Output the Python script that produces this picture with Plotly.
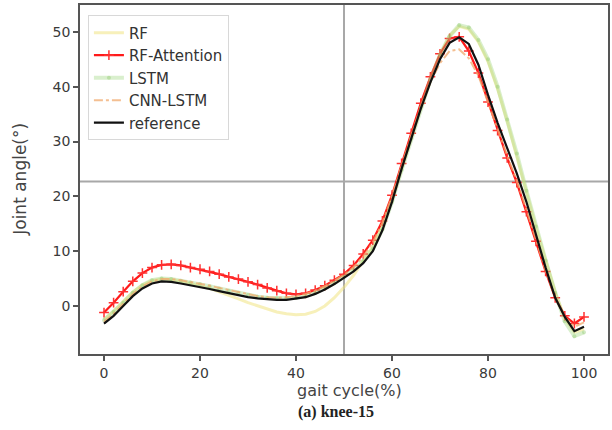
import plotly.graph_objects as go

gait = list(range(0, 101, 2))

reference = [-3.2, -1.8, 0.0, 1.8, 3.2, 4.1, 4.5, 4.4, 4.1, 3.8,
             3.5, 3.1, 2.7, 2.3, 1.9, 1.6, 1.4, 1.2, 1.1, 1.1,
             1.3, 1.6, 2.2, 3.0, 4.0, 5.1, 6.3, 7.8, 10.0, 13.8,
             19.0, 25.0, 30.5, 36.0, 40.8, 45.0, 48.0, 49.0, 47.8, 44.0,
             38.5, 33.4, 28.8, 24.2, 19.0, 13.0, 7.0, 1.5, -2.0, -4.6,
             -3.8]

rf_attention = [-1.2, 0.6, 2.6, 4.5, 6.0, 7.0, 7.5, 7.6, 7.4, 7.0,
                6.7, 6.3, 5.8, 5.3, 4.9, 4.4, 3.9, 3.3, 2.8, 2.3,
                2.1, 2.3, 2.9, 3.7, 4.7, 5.8, 7.4, 9.5, 12.0, 15.5,
                20.2, 26.0, 31.5, 37.0, 41.8, 46.0, 48.8, 49.1, 46.5, 42.5,
                37.2, 32.0, 27.0, 22.5, 17.2, 11.8, 6.3, 1.5, -1.8, -3.2,
                -2.0]

lstm = [-2.6, -1.1, 0.6, 2.4, 3.8, 4.7, 5.0, 4.9, 4.6, 4.3,
        4.0, 3.6, 3.2, 2.8, 2.4, 2.0, 1.7, 1.5, 1.4, 1.4,
        1.5, 1.8, 2.4, 3.2, 4.2, 5.3, 6.6, 8.2, 10.4, 14.0,
        19.0, 24.8, 30.5, 36.2, 41.3, 45.8, 49.2, 51.2, 50.8, 48.5,
        45.0, 40.0, 34.0, 27.8, 21.0, 14.5, 8.3, 2.4, -2.8, -5.5,
        -4.8]

rf = [-2.5, -1.0, 0.8, 2.5, 3.8, 4.6, 4.9, 4.8, 4.5, 4.1,
      3.7, 3.2, 2.6, 2.0, 1.3, 0.6, 0.0, -0.6, -1.1, -1.4,
      -1.6, -1.5, -1.0, 0.0, 1.5, 3.4, 5.6, 8.2, 10.8, 14.5,
      19.5, 25.0, 30.6, 36.2, 41.3, 45.8, 49.3, 51.0, 50.5, 48.2,
      44.6, 39.6, 33.7, 27.5, 20.8, 14.3, 8.2, 2.5, -2.3, -4.8,
      -4.2]

cnn_lstm = [-2.9, -1.4, 0.4, 2.2, 3.6, 4.5, 4.9, 4.9, 4.7, 4.4,
            4.1, 3.7, 3.3, 2.9, 2.5, 2.1, 1.8, 1.6, 1.5, 1.6,
            1.8, 2.2, 2.8, 3.6, 4.6, 5.7, 7.1, 9.0, 11.6, 15.2,
            20.0, 25.6, 31.0, 36.3, 40.8, 44.3, 46.5, 46.8, 45.2, 42.0,
            37.3, 32.3, 27.4, 22.8, 17.6, 12.0, 6.5, 1.5, -2.0, -3.8,
            -3.0]

cross_x = 50
cross_y = 22.7

x_ticks = [0, 20, 40, 60, 80, 100]
y_ticks = [0, 10, 20, 30, 40, 50]

fig = go.Figure()
fig.add_trace(go.Scatter(x=gait, y=rf, name="RF", mode="lines",
                         line=dict(color="rgba(240,228,130,0.55)", width=3)))
fig.add_trace(go.Scatter(x=gait, y=rf_attention, name="RF-Attention", mode="lines+markers",
                         line=dict(color="#ff1a1a", width=2.2),
                         marker=dict(symbol="cross-thin", size=7,
                                     line=dict(color="#ff3030", width=1.5))))
fig.add_trace(go.Scatter(x=gait, y=lstm, name="LSTM", mode="lines+markers",
                         line=dict(color="rgba(160,215,130,0.4)", width=4),
                         marker=dict(symbol="circle", size=4, color="rgba(150,205,120,0.45)")))
fig.add_trace(go.Scatter(x=gait, y=cnn_lstm, name="CNN-LSTM", mode="lines",
                         line=dict(color="rgba(240,170,110,0.75)", width=2, dash="dashdot")))
fig.add_trace(go.Scatter(x=gait, y=reference, name="reference", mode="lines",
                         line=dict(color="#111111", width=2.2)))

fig.add_shape(type="line", xref="x", yref="paper", x0=cross_x, x1=cross_x, y0=0, y1=1,
              line=dict(color="#a8a8a8", width=2), layer="below")
fig.add_shape(type="line", xref="paper", yref="y", x0=0, x1=1, y0=cross_y, y1=cross_y,
              line=dict(color="#a8a8a8", width=2), layer="below")

axis_common = dict(showgrid=False, zeroline=False, showline=True, mirror=True,
                   linecolor="#555555", linewidth=1.5, ticks="outside", ticklen=5,
                   tickcolor="#555555", tickwidth=1.5,
                   tickfont=dict(family="DejaVu Sans", size=14, color="#3a3a3a"))

fig.update_layout(
    width=612, height=430,
    margin=dict(l=80, r=2, t=5, b=76),
    plot_bgcolor="white", paper_bgcolor="white",
    xaxis=dict(range=[-5, 105], tickvals=x_ticks, **axis_common),
    yaxis=dict(range=[-8.76, 54.9], tickvals=y_ticks, **axis_common),
    legend=dict(x=0.015, y=0.97, xanchor="left", yanchor="top",
                bgcolor="rgba(255,255,255,0.9)", bordercolor="#d8d8d8", borderwidth=1,
                font=dict(family="DejaVu Sans", size=15, color="#333333")),
    showlegend=True,
    annotations=[
        dict(text="gait cycle(%)", xref="paper", yref="paper", x=0.51, y=-0.104,
             xanchor="center", yanchor="middle", showarrow=False,
             font=dict(family="DejaVu Sans", size=16, color="#444444")),
        dict(text="<b>(a) knee-15</b>", xref="paper", yref="paper", x=0.485, y=-0.165,
             xanchor="center", yanchor="middle", showarrow=False,
             font=dict(family="Liberation Serif", size=16, color="#222222")),
        dict(text="Joint angle(°)", xref="paper", yref="paper", x=-0.115, y=0.5,
             xanchor="center", yanchor="middle", showarrow=False, textangle=-90,
             font=dict(family="DejaVu Sans", size=17, color="#444444")),
    ],
)

fig.write_html("out.html")
